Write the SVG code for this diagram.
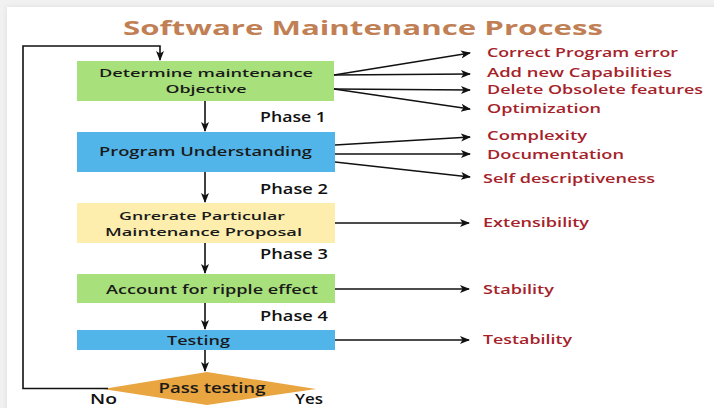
<svg xmlns="http://www.w3.org/2000/svg" width="714" height="408" viewBox="0 0 714 408">
  <defs>
    <marker id="arrow" viewBox="0 0 10 10" refX="9" refY="5" markerWidth="10" markerHeight="10" markerUnits="userSpaceOnUse" orient="auto">
      <path d="M0,1 L10,5 L0,9 L2.5,5 Z" fill="#111"/>
    </marker>
    <filter id="soft" x="-5%" y="-5%" width="110%" height="110%">
      <feGaussianBlur stdDeviation="3"/>
    </filter>
    <style>
      text { font-family: "Open Sans", "Liberation Sans", sans-serif; }
      .title { font-size: 20px; font-weight: 700; fill: #c17f55; }
      .box-label { font-size: 12px; font-weight: 600; fill: #1a1a1a; text-anchor: middle; }
      .two-line { font-size: 11.5px; }
      .phase { font-size: 13.5px; font-weight: 600; fill: #111; }
      .attr { font-size: 13px; font-weight: 600; fill: #a5222a; }
      .edge { stroke: #111; stroke-width: 1.6; fill: none; }
      .fan { stroke: #111; stroke-width: 1.3; fill: none; }
      .green { fill: #a8e07b; }
      .blue { fill: #52b5ea; }
      .yellow { fill: #fdeeae; }
      .decision { fill: #e9a53f; }
    </style>
  </defs>

  <!-- page backdrop and card -->
  <rect x="0" y="0" width="714" height="408" fill="#f1f1f1"/>
  <rect x="7" y="7" width="720" height="420" fill="#000" opacity="0.08" filter="url(#soft)"/>
  <rect x="7" y="7" width="720" height="420" fill="#ffffff"/>

  <text class="title" x="123" y="35" textLength="480" lengthAdjust="spacingAndGlyphs">Software Maintenance Process</text>

  <!-- process steps -->
  <g id="determine-objective">
    <rect class="green" x="77" y="61" width="257" height="40"/>
    <text class="box-label two-line" x="206" y="77" textLength="214" lengthAdjust="spacingAndGlyphs">Determine maintenance</text>
    <text class="box-label two-line" x="206" y="93" textLength="81" lengthAdjust="spacingAndGlyphs">Objective</text>
  </g>
  <g id="program-understanding">
    <rect class="blue" x="77" y="132" width="258" height="40"/>
    <text class="box-label" x="205.5" y="156" textLength="213" lengthAdjust="spacingAndGlyphs">Program Understanding</text>
  </g>
  <g id="generate-proposal">
    <rect class="yellow" x="77" y="203" width="258" height="40"/>
    <text class="box-label two-line" x="202" y="220" textLength="166" lengthAdjust="spacingAndGlyphs">Gnrerate Particular</text>
    <text class="box-label two-line" x="203.5" y="236" textLength="197" lengthAdjust="spacingAndGlyphs">Maintenance Proposal</text>
  </g>
  <g id="ripple-effect">
    <rect class="green" x="77" y="274" width="258" height="29"/>
    <text class="box-label" x="212" y="294" textLength="212" lengthAdjust="spacingAndGlyphs">Account for ripple effect</text>
  </g>
  <g id="testing">
    <rect class="blue" x="77" y="330" width="258" height="20"/>
    <text class="box-label" x="198.5" y="345" textLength="63" lengthAdjust="spacingAndGlyphs">Testing</text>
  </g>
  <g id="pass-testing">
    <polygon class="decision" points="207,372 316,389 207,405 103,389"/>
    <text x="212" y="393" text-anchor="middle" font-size="14.5" font-weight="600" fill="#1a1a1a" textLength="107" lengthAdjust="spacingAndGlyphs">Pass testing</text>
  </g>

  <!-- phase labels -->
  <g id="phase-labels">
    <text class="phase" x="260" y="122" textLength="66" lengthAdjust="spacingAndGlyphs">Phase 1</text>
    <text class="phase" x="260" y="194" textLength="68" lengthAdjust="spacingAndGlyphs">Phase 2</text>
    <text class="phase" x="260" y="259" textLength="68" lengthAdjust="spacingAndGlyphs">Phase 3</text>
    <text class="phase" x="260" y="321" textLength="68" lengthAdjust="spacingAndGlyphs">Phase 4</text>
    <text class="phase" x="90" y="404" textLength="27" lengthAdjust="spacingAndGlyphs">No</text>
    <text class="phase" x="295" y="404" textLength="28" lengthAdjust="spacingAndGlyphs">Yes</text>
  </g>

  <!-- attribute labels -->
  <g id="attributes">
    <text class="attr" x="487" y="57" textLength="191" lengthAdjust="spacingAndGlyphs">Correct Program error</text>
    <text class="attr" x="487" y="77" textLength="185" lengthAdjust="spacingAndGlyphs">Add new Capabilities</text>
    <text class="attr" x="487" y="94" textLength="216" lengthAdjust="spacingAndGlyphs">Delete Obsolete features</text>
    <text class="attr" x="487" y="113" textLength="114" lengthAdjust="spacingAndGlyphs">Optimization</text>
    <text class="attr" x="487" y="140" textLength="100" lengthAdjust="spacingAndGlyphs">Complexity</text>
    <text class="attr" x="487" y="159" textLength="137" lengthAdjust="spacingAndGlyphs">Documentation</text>
    <text class="attr" x="483" y="183" textLength="172" lengthAdjust="spacingAndGlyphs">Self descriptiveness</text>
    <text class="attr" x="483" y="227" textLength="106" lengthAdjust="spacingAndGlyphs">Extensibility</text>
    <text class="attr" x="483" y="294" textLength="71" lengthAdjust="spacingAndGlyphs">Stability</text>
    <text class="attr" x="483" y="344" textLength="89" lengthAdjust="spacingAndGlyphs">Testability</text>
  </g>

  <!-- connectors -->
  <g id="connectors">
    <!-- main flow -->
    <line class="edge" x1="205" y1="101" x2="205" y2="131" marker-end="url(#arrow)"/>
    <line class="edge" x1="205" y1="172" x2="205" y2="202" marker-end="url(#arrow)"/>
    <line class="edge" x1="205" y1="243" x2="205" y2="273" marker-end="url(#arrow)"/>
    <line class="edge" x1="205" y1="303" x2="205" y2="329" marker-end="url(#arrow)"/>
    <line class="edge" x1="205" y1="350" x2="205" y2="371" marker-end="url(#arrow)"/>
    <!-- "No" loop back to the start -->
    <polyline class="edge" points="108,388.5 23,388.5 23,46 160,46 160,60" marker-end="url(#arrow)"/>

    <!-- objective fan-out -->
    <line class="fan" x1="334" y1="75" x2="470" y2="53" marker-end="url(#arrow)"/>
    <line class="fan" x1="334" y1="75" x2="470" y2="74" marker-end="url(#arrow)"/>
    <line class="fan" x1="334" y1="89" x2="470" y2="90" marker-end="url(#arrow)"/>
    <line class="fan" x1="334" y1="89" x2="470" y2="109" marker-end="url(#arrow)"/>
    <!-- understanding fan-out -->
    <line class="fan" x1="335" y1="145" x2="470" y2="137" marker-end="url(#arrow)"/>
    <line class="fan" x1="335" y1="154" x2="470" y2="154" marker-end="url(#arrow)"/>
    <line class="fan" x1="335" y1="162" x2="470" y2="177" marker-end="url(#arrow)"/>
    <!-- single outputs -->
    <line class="fan" x1="335" y1="223" x2="469" y2="223" marker-end="url(#arrow)"/>
    <line class="fan" x1="335" y1="289" x2="469" y2="289" marker-end="url(#arrow)"/>
    <line class="fan" x1="335" y1="340" x2="469" y2="340" marker-end="url(#arrow)"/>
  </g>
</svg>
